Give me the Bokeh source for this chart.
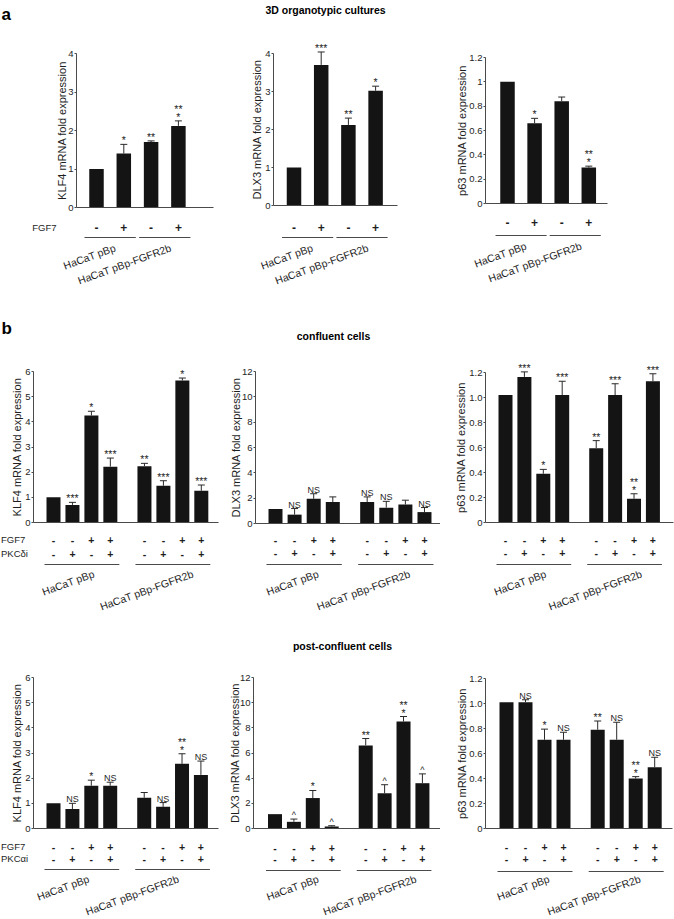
import math
from bokeh.plotting import figure
from bokeh.models import Range1d, LinearAxis, FixedTicker, Whisker, TeeHead, ColumnDataSource
from bokeh.layouts import row, column
from bokeh.embed import file_html
from bokeh.resources import INLINE
from bokeh.core.properties import value

FONT = "Liberation Sans"

# ---------------- data ----------------
groups = ["HaCaT pBp", "HaCaT pBp-FGFR2b"]

a_fgf7 = ["-", "+", "-", "+"]
b_fgf7 = ["-", "-", "+", "+", "-", "-", "+", "+"]
b_pkc = ["-", "+", "-", "+", "-", "+", "-", "+"]

# a: 3D organotypic cultures
a_klf4 = [1.0, 1.40, 1.70, 2.12]
a_klf4_err = [0, 0.24, 0.03, 0.13]
a_klf4_sig = ["", "*", "**", "**\n*"]

a_dlx3 = [1.0, 3.70, 2.12, 3.02]
a_dlx3_err = [0, 0.34, 0.18, 0.12]
a_dlx3_sig = ["", "***", "**", "*"]

a_p63 = [1.0, 0.66, 0.84, 0.295]
a_p63_err = [0, 0.04, 0.035, 0.012]
a_p63_sig = ["", "*", "", "**\n*"]

# b: confluent cells
b_klf4 = [1.0, 0.70, 4.25, 2.22, 2.24, 1.46, 5.64, 1.26]
b_klf4_err = [0, 0.10, 0.17, 0.34, 0.11, 0.20, 0.10, 0.23]
b_klf4_sig = ["", "***", "*", "***", "**", "***", "*", "***"]

b_dlx3 = [1.15, 0.70, 1.95, 1.70, 1.70, 1.25, 1.50, 0.90]
b_dlx3_err = [0, 0.48, 0.40, 0.40, 0.40, 0.50, 0.34, 0.36]
b_dlx3_sig = ["", "NS", "NS", "", "NS", "NS", "", "NS"]

b_p63 = [1.02, 1.165, 0.39, 1.02, 0.595, 1.02, 0.19, 1.13]
b_p63_err = [0, 0.04, 0.035, 0.11, 0.06, 0.09, 0.04, 0.06]
b_p63_sig = ["", "***", "*", "***", "**", "***", "**\n*", "***"]

# c: post-confluent cells
c_klf4 = [1.0, 0.77, 1.70, 1.70, 1.22, 0.86, 2.57, 2.13]
c_klf4_err = [0, 0.23, 0.22, 0.14, 0.21, 0.17, 0.40, 0.55]
c_klf4_sig = ["", "NS", "*", "NS", "", "NS", "**\n*", "NS"]

c_dlx3 = [1.14, 0.53, 2.42, 0.16, 6.60, 2.80, 8.50, 3.60]
c_dlx3_err = [0, 0.22, 0.60, 0.06, 0.55, 0.68, 0.40, 0.74]
c_dlx3_sig = ["", "^", "*", "^", "**", "^", "**\n*", "^"]

c_p63 = [1.01, 1.01, 0.71, 0.71, 0.79, 0.71, 0.40, 0.49]
c_p63_err = [0, 0.02, 0.085, 0.06, 0.07, 0.14, 0.015, 0.08]
c_p63_sig = ["", "NS", "*", "NS", "**", "NS", "**\n*", "NS"]

klf4_a_ticks = [0, 1, 2, 3, 4]
klf4_a_labels = ["0", "1", "2", "3", "4"]
p63_a_ticks = [0, 0.2, 0.4, 0.6, 0.8, 1.0, 1.2]
p63_a_labels = ["0", "0.2", "0.4", "0.6", "0.8", "1", "1.2"]
klf4_b_ticks = [0, 1, 2, 3, 4, 5, 6]
klf4_b_labels = ["0", "1", "2", "3", "4", "5", "6"]
dlx3_b_ticks = [0, 2, 4, 6, 8, 10, 12]
dlx3_b_labels = ["0", "2", "4", "6", "8", "10", "12"]
p63_b_labels = ["0", "0.2", "0.4", "0.6", "0.8", "1.0", "1.2"]

# ---------------- layout (pixel geometry) ----------------
COL_X0 = [0, 220, 440]
COL_W = [220, 220, 234]
ROW_Y0 = [0, 300, 613]
ROW_H = [300, 313, 306]

AXC = "#4a4a4a"
TXT = "#1e1e1e"
BAR = "#141414"


def build(col, rw, vals, errs, sigs, ylabel, yticks, ylabels, ymax,
          sign_rows, row_names, g):
    W, H = COL_W[col], ROW_H[rw]
    x0r, y0r = COL_X0[col], ROW_Y0[rw]
    n = len(vals)
    per = n // 2
    slot = g["slot"]

    def X(px):
        return (px - g["bar0"]) / slot

    k = (g["base"] - g["top"]) / ymax

    def Y(py):
        return (g["base"] - py) / k

    xs = [(i // per) * (per + g["gap"]) + (i % per) for i in range(n)]

    p = figure(width=W, height=H, x_range=Range1d(X(x0r), X(x0r + W)),
               y_range=Range1d(Y(y0r + H), Y(y0r)), x_axis_type=None,
               y_axis_type=None, toolbar_location=None, output_backend="svg",
               title=None, min_border=0, outline_line_color=None)

    # bars
    p.vbar(x=xs, top=vals, bottom=0, width=g["bw"] / slot,
           fill_color=BAR, line_color=None)

    # error bars
    ex = [x for x, e in zip(xs, errs) if e > 0]
    elo = [v for v, e in zip(vals, errs) if e > 0]
    ehi = [v + e for v, e in zip(vals, errs) if e > 0]
    src = ColumnDataSource(dict(x=ex, lower=elo, upper=ehi))
    p.add_layout(Whisker(source=src, base="x", lower="lower", upper="upper",
                         line_color="#2a2a2a", line_width=1, lower_head=None,
                         upper_head=TeeHead(size=7, line_color="#2a2a2a", line_width=1),
                         level="glyph"))

    # axes
    yax = LinearAxis(fixed_location=X(g["axis"]), bounds=(0, ymax),
                     ticker=FixedTicker(ticks=yticks, minor_ticks=[]),
                     major_label_overrides={float(t): l for t, l in zip(yticks, ylabels)},
                     axis_line_color=AXC, major_tick_line_color=AXC,
                     major_tick_out=2, major_tick_in=0, minor_tick_out=0, minor_tick_in=0,
                     major_label_standoff=1, major_label_text_font=FONT,
                     major_label_text_font_size="9.5px", major_label_text_color=TXT)
    p.add_layout(yax, "left")
    xax = LinearAxis(fixed_location=0, bounds=(X(g["axis"]), X(g["xend"])),
                     ticker=FixedTicker(ticks=[], minor_ticks=[]),
                     axis_line_color=AXC, major_tick_out=0, minor_tick_out=0,
                     major_label_text_font_size="0px")
    p.add_layout(xax, "below")

    # y label
    p.text(x=[X(g["axis"] - g["ylab_dx"])], y=[ymax / 2], text=[ylabel],
           angle=math.pi / 2, text_align="center", text_baseline="middle",
           text_font=value(FONT), text_font_size="11px", text_color=TXT)

    # significance marks
    lx, ly, lt, lf = [], [], [], []
    ux, uy, ut, uf = [], [], [], []
    for x, v, e, s in zip(xs, vals, errs, sigs):
        if not s:
            continue
        parts = s.split("\n")
        fs = "10.5px" if "*" in parts[-1] else "9px"
        lx.append(x); ly.append(v + e); lt.append(parts[-1]); lf.append(fs)
        if len(parts) > 1:
            ux.append(x); uy.append(v + e); ut.append(parts[0]); uf.append("10.5px")
    p.text(x="x", y="y", text="t", text_font_size="f",
           source=ColumnDataSource(dict(x=lx, y=ly, t=lt, f=lf)),
           text_align="center", text_baseline="alphabetic", y_offset=-4,
           text_font=value(FONT), text_color=TXT)
    if ux:
        p.text(x="x", y="y", text="t", text_font_size="f",
               source=ColumnDataSource(dict(x=ux, y=uy, t=ut, f=uf)),
               text_align="center", text_baseline="alphabetic", y_offset=-12,
               text_font=value(FONT), text_color=TXT)

    # +/- rows
    for r, signs in enumerate(sign_rows):
        yy = Y(g["rows"][r])
        p.text(x=xs, y=[yy] * n, text=signs, text_align="center",
               text_baseline="middle", text_font=value(FONT),
               text_font_size=g["sign_fs"], text_font_style="bold", text_color=TXT)
        if row_names:
            p.text(x=[X(g["rowlab_x"])], y=[yy], text=[row_names[r]],
                   text_align=g["rowlab_align"], text_baseline="middle",
                   text_font=value(FONT), text_font_size="9.5px", text_color=TXT)

    # group underlines and labels
    ext = g["ul_ext"] / slot
    gx0 = [xs[0] - ext, xs[per] - ext]
    gx1 = [xs[per - 1] + ext, xs[-1] + ext]
    p.segment(x0=gx0, y0=[Y(g["ul"])] * 2, x1=gx1, y1=[Y(g["ul"])] * 2,
              line_color=AXC, line_width=1)
    gc = [(xs[0] + xs[per - 1]) / 2 + g["ldx"][0] / slot,
          (xs[per] + xs[-1]) / 2 + g["ldx"][1] / slot]
    p.text(x=gc, y=[Y(g["ltop"])] * 2, text=groups, angle=math.radians(20),
           text_align="right", text_baseline="top", text_font=value(FONT),
           text_font_size="10.5px", text_color=TXT)
    p._X = X
    p._Y = Y
    return p


def geo_a(axis, bar0, slot, base, top, xend, rows, ul, ylab_dx):
    return dict(axis=axis, bar0=bar0, slot=slot, base=base, top=top, xend=xend,
                rows=rows, ul=ul, ltop=ul + 4, gap=0, bw=14.5, ul_ext=12,
                ldx=(3, 4), ylab_dx=ylab_dx, sign_fs="12px", rowlab_x=56,
                rowlab_align="right")


def geo_b(axis, bar0, slot, base, top, xend, rows, ul, ltop, ldx, ylab_dx):
    return dict(axis=axis, bar0=bar0, slot=slot, base=base, top=top, xend=xend,
                rows=rows, ul=ul, ltop=ltop, gap=0.8, bw=14, ul_ext=9,
                ldx=ldx, ylab_dx=ylab_dx, sign_fs="10.5px", rowlab_x=0.5,
                rowlab_align="left")


g = geo_a(76, 96, 27.3, 207, 53, 213, [227], 237, 14.5)
p_a1 = build(0, 0, a_klf4, a_klf4_err, a_klf4_sig, "KLF4 mRNA fold expression",
             klf4_a_ticks, klf4_a_labels, 4, [a_fgf7], ["FGF7"], g)
g = geo_a(273, 293.5, 27.2, 205, 53, 397, [227], 237, 16.5)
p_a2 = build(1, 0, a_dlx3, a_dlx3_err, a_dlx3_sig, "DLX3 mRNA fold expression",
             klf4_a_ticks, klf4_a_labels, 4, [a_fgf7], None, g)
g = geo_a(485, 507, 27.1, 203, 57, 607, [222], 235, 24)
p_a3 = build(2, 0, a_p63, a_p63_err, a_p63_sig, "p63 mRNA fold expression",
             p63_a_ticks, p63_a_labels, 1.2, [a_fgf7], None, g)

g = geo_b(33, 53, 18.95, 522, 371, 218, [539, 553], 564, 567, (10, 18), 17)
p_b1 = build(0, 1, b_klf4, b_klf4_err, b_klf4_sig, "KLF4 mRNA fold expression",
             klf4_b_ticks, klf4_b_labels, 6, [b_fgf7, b_pkc], ["FGF7", "PKCδi"], g)
g = geo_b(255, 275, 19.1, 523, 371, 440, [539, 552], 564, 567, (12, 12), 19.5)
p_b2 = build(1, 1, b_dlx3, b_dlx3_err, b_dlx3_sig, "DLX3 mRNA fold expression",
             dlx3_b_ticks, dlx3_b_labels, 12, [b_fgf7, b_pkc], None, g)
g = geo_b(485, 505, 18.9, 522, 372, 673, [539, 552], 564, 567, (10, 15), 24.5)
p_b3 = build(2, 1, b_p63, b_p63_err, b_p63_sig, "p63 mRNA fold expression",
             p63_a_ticks, p63_b_labels, 1.2, [b_fgf7, b_pkc], None, g)

g = geo_b(33, 53, 18.9, 828, 677, 218, [846, 858], 869, 872, (5, 4), 17)
p_c1 = build(0, 2, c_klf4, c_klf4_err, c_klf4_sig, "KLF4 mRNA fold expression",
             klf4_b_ticks, klf4_b_labels, 6, [b_fgf7, b_pkc], ["FGF7", "PKCαi"], g)
g = geo_b(253, 274.5, 18.9, 828, 677, 440, [847, 858], 870, 872, (13, 20), 19)
p_c2 = build(1, 2, c_dlx3, c_dlx3_err, c_dlx3_sig, "DLX3 mRNA fold expression",
             dlx3_b_ticks, dlx3_b_labels, 12, [b_fgf7, b_pkc], None, g)
g = geo_b(485, 506, 19.0, 828, 678, 672, [846, 858], 871, 872, (12, 12), 23.5)
p_c3 = build(2, 2, c_p63, c_p63_err, c_p63_sig, "p63 mRNA fold expression",
             p63_a_ticks, p63_b_labels, 1.2, [b_fgf7, b_pkc], None, g)


# titles and panel letters
def put(p, px, py, txt, size, align="left"):
    p.text(x=[p._X(px)], y=[p._Y(py)], text=[txt], text_align=align,
           text_baseline="alphabetic", text_font=value(FONT), text_font_size=size,
           text_font_style="bold", text_color="#000000")


put(p_a1, 1, 13.5, "a", "17px")
put(p_a2, 325, 9, "3D organotypic cultures", "10.5px", align="center")
put(p_b1, 1, 328, "b", "17px")
put(p_b2, 333, 335, "confluent cells", "10.5px", align="center")
put(p_c2, 342, 645, "post-confluent cells", "10.5px", align="center")

layout = column(row(p_a1, p_a2, p_a3), row(p_b1, p_b2, p_b3), row(p_c1, p_c2, p_c3))

open("out.html", "w").write(file_html(layout, INLINE))
